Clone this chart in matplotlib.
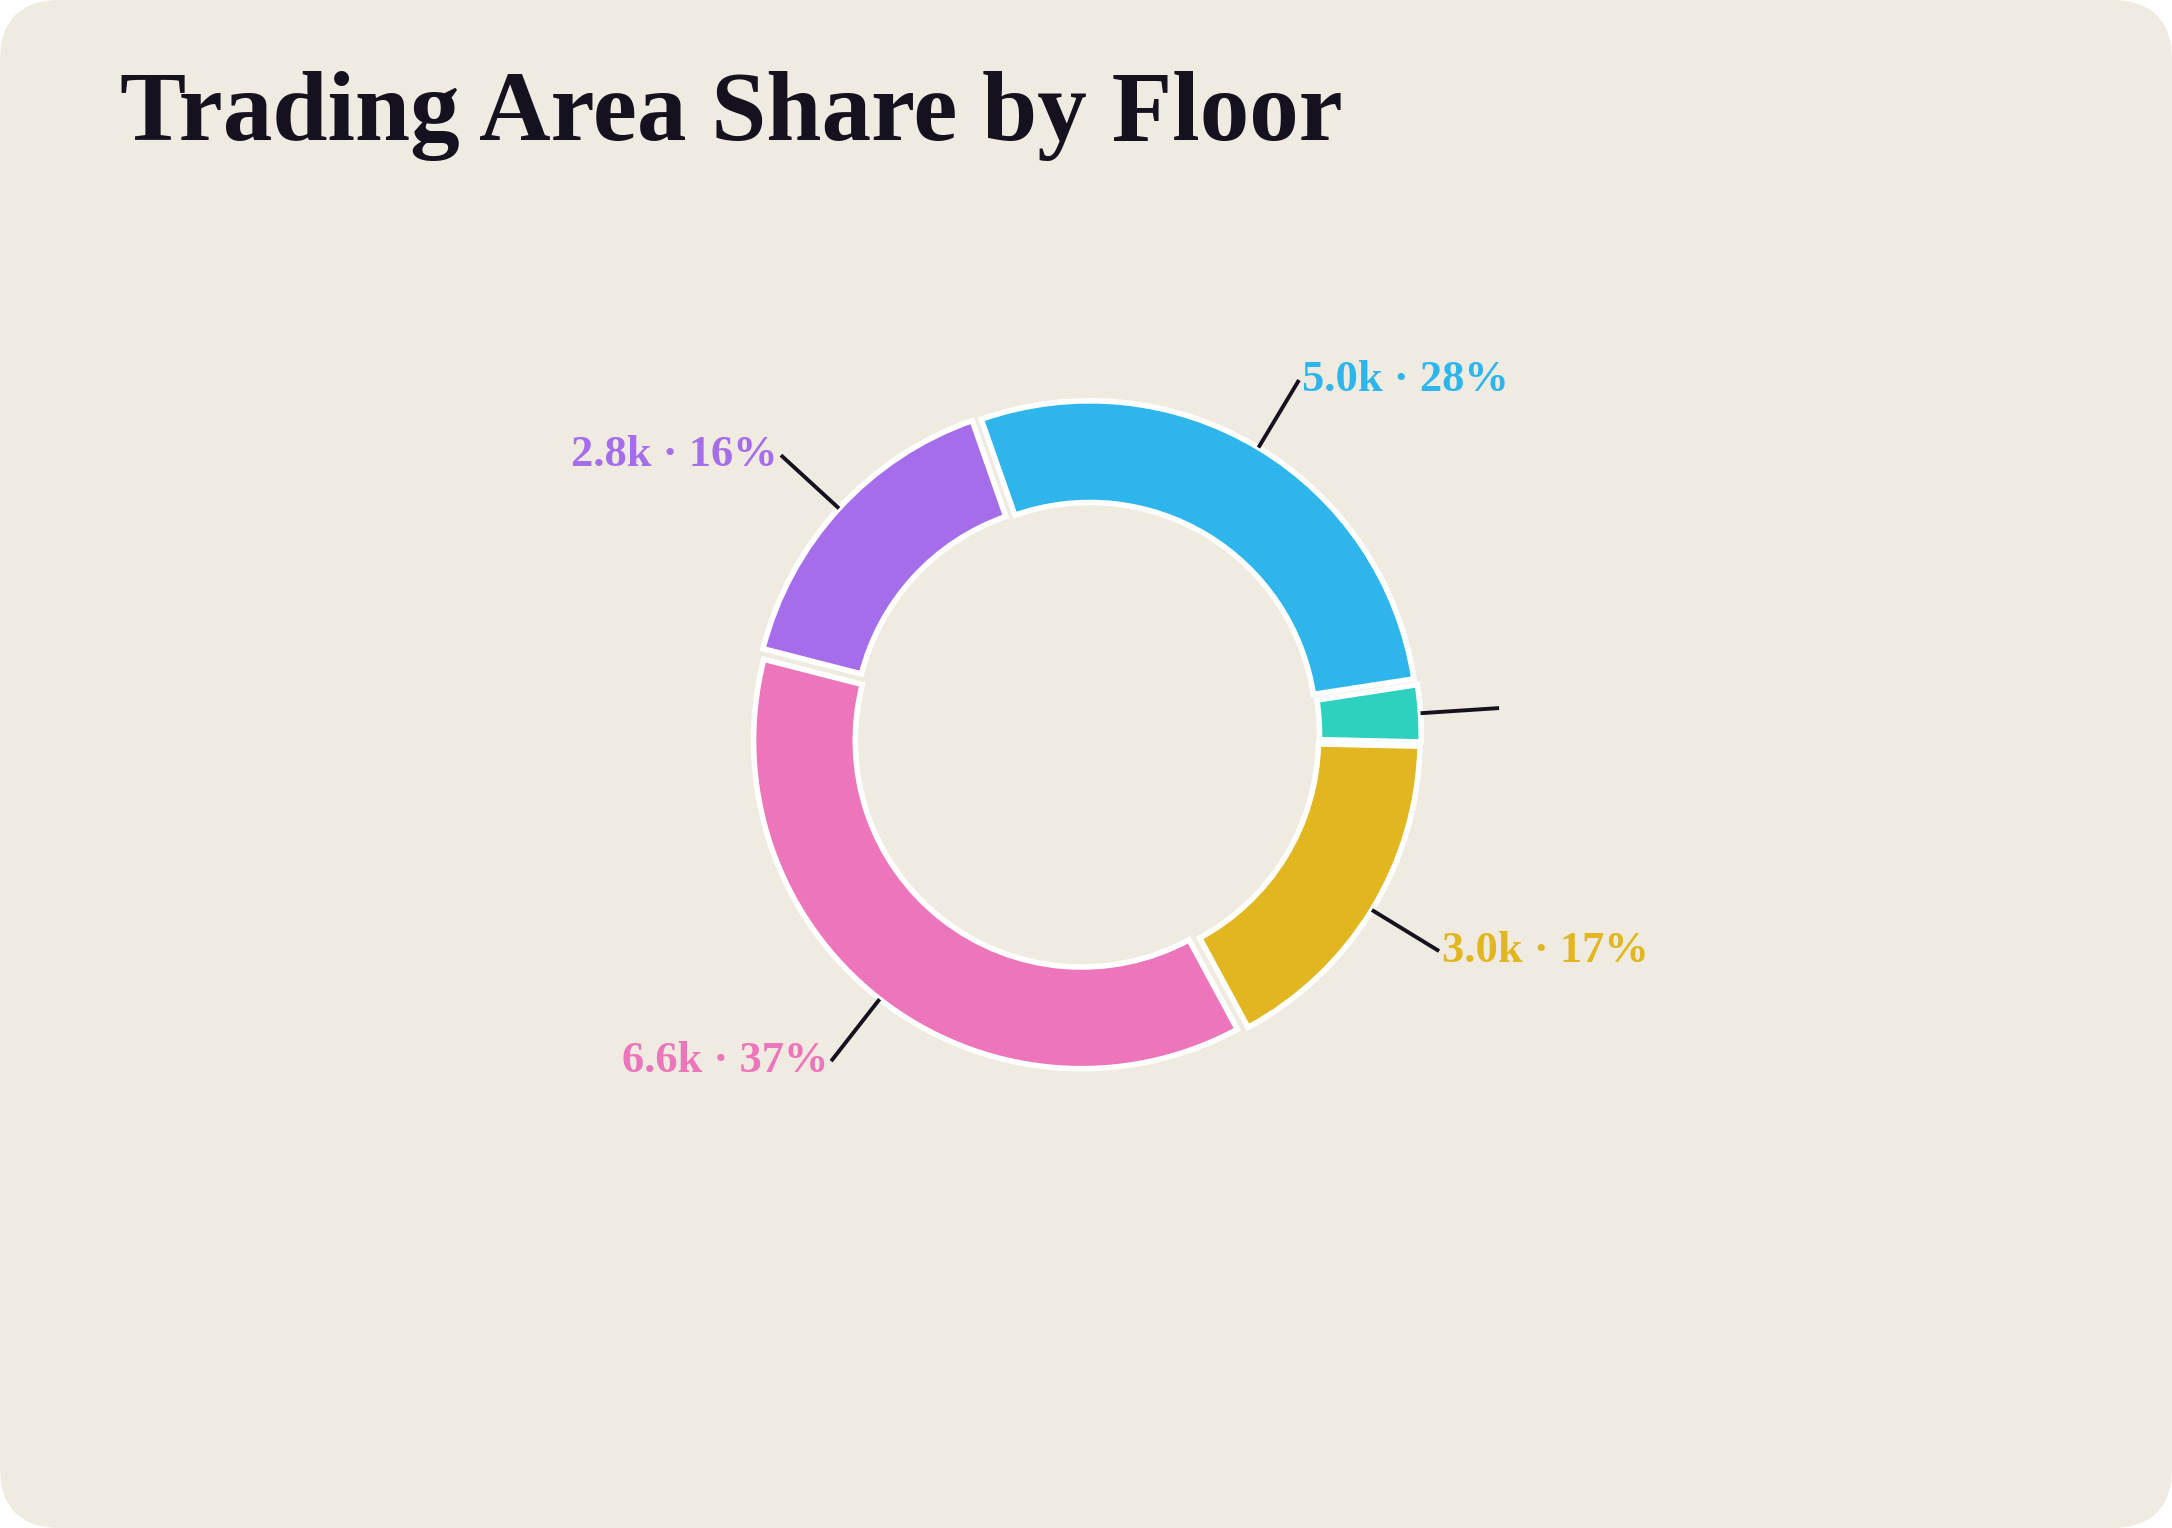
import numpy as np
import matplotlib
matplotlib.use("Agg")
import matplotlib.pyplot as plt
from matplotlib.patches import FancyBboxPatch

# floors, counter-clockwise from 3 o'clock
floors = ["Mezzanine", "Ground", "Level 1", "Lower Ground", "Level 2"]
area_sqm = [500, 5000, 2800, 6600, 3000]
colors = ["#2ED1BE", "#2DB5EC", "#A66DEB", "#EC75BC", "#E1B620"]
show_label = [False, True, True, True, True]

W, H = 2172, 1528
DPI = 200
BG = "#F0EBE1"
INK = "#15111F"
SERIF = ["Liberation Serif", "DejaVu Serif"]

fig = plt.figure(figsize=(W / DPI, H / DPI), dpi=DPI, facecolor="white")
fig.patches.append(
    FancyBboxPatch((0, 0), 1, 1, boxstyle="round,pad=0,rounding_size=0.028",
                   transform=fig.transFigure, facecolor=BG, edgecolor="none",
                   mutation_aspect=W / H, zorder=-10)
)

ax = fig.add_axes([0, 0, 1, 1], zorder=1)
ax.patch.set_alpha(0)

# ring geometry in pixel units
cx, cy, R = 1086, H - 735, 328
total = sum(area_sqm)
wedges, _ = ax.pie(
    area_sqm, colors=colors, startangle=-1.3, counterclock=True,
    center=(cx, cy), radius=R, explode=[0.022 * R] * len(area_sqm),
    wedgeprops=dict(width=R * 0.31, edgecolor="white", linewidth=2.0),
    frame=True,
)
ax.set_xlim(0, W)
ax.set_ylim(0, H)
ax.set_aspect("equal")
ax.axis("off")

for w, v, c, show in zip(wedges, area_sqm, colors, show_label):
    mid = np.deg2rad((w.theta1 + w.theta2) / 2)
    ox, oy = w.center
    r0 = w.r
    x0, y0 = ox + r0 * np.cos(mid), oy + r0 * np.sin(mid)
    x1, y1 = ox + (R * 1.24) * np.cos(mid), oy + (R * 1.24) * np.sin(mid)
    ax.plot([x0, x1], [y0, y1], color=INK, lw=1.4, solid_capstyle="butt")
    if show:
        right = np.cos(mid) >= 0
        ax.text(x1 + (3 if right else -3), y1,
                f"{v / 1000:.1f}k \u00b7 {v / total * 100:.0f}%",
                ha="left" if right else "right", va="center",
                color=c, fontsize=16, fontweight="bold", family=SERIF)

fig.text(120 / W, 1 - 140 / H, "Trading Area Share by Floor",
         fontsize=35.7, fontweight="bold", family=SERIF,
         color=INK, ha="left", va="baseline")

fig.savefig("out.png", dpi=DPI, facecolor="white")
